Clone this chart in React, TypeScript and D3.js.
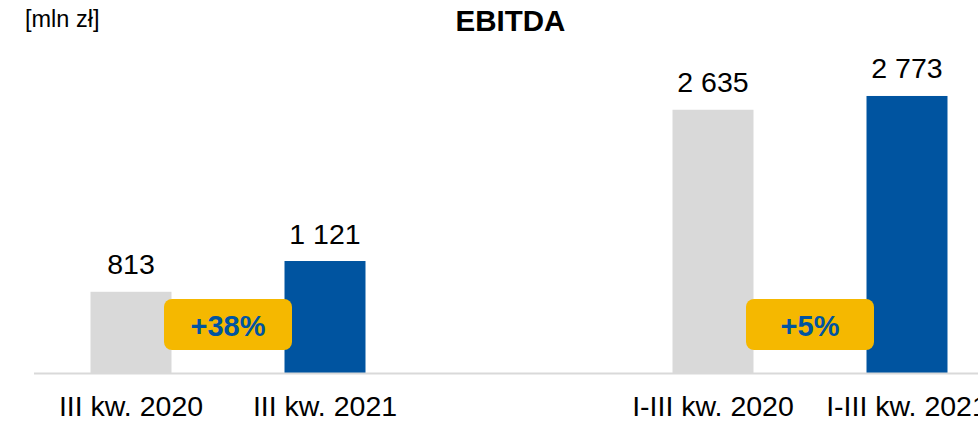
import React from "react";
import * as d3 from "d3";

const categories = ["III kw. 2020", "III kw. 2021", "gap", "I-III kw. 2020", "I-III kw. 2021"];
const values: (number | null)[] = [813, 1121, null, 2635, 2773];
const valueLabels = ["813", "1 121", "", "2 635", "2 773"];
const barKinds = ["prev", "curr", "none", "prev", "curr"];
const changes = [
  { from: "III kw. 2020", to: "III kw. 2021", label: "+38%" },
  { from: "I-III kw. 2020", to: "I-III kw. 2021", label: "+5%" },
];
const title = "EBITDA";
const unitLabel = "[mln zł]";

const W = 978;
const H = 421;
const FONT = "'Liberation Sans', Arial, sans-serif";
const GRAY = "#d9d9d9";
const BLUE = "#0054a0";
const YELLOW = "#f5b800";

export default function App() {
  const x = d3
    .scaleBand<string>()
    .domain(categories)
    .range([34, 1004])
    .paddingInner(0.5825)
    .paddingOuter(0.29125);
  const y = d3.scaleLinear().domain([0, 3000]).range([373, 73.3]);
  const bw = x.bandwidth();
  const base = y(0);

  return (
    <svg
      width={W}
      height={H}
      style={{ position: "absolute", left: 0, top: 0, display: "block" }}
    >
      <rect width={W} height={H} fill="#fff" />
      <text x={25} y={26.5} fontFamily={FONT} fontSize={23.5} fill="#000">
        {unitLabel}
      </text>
      <text
        x={510.5}
        y={30.7}
        fontFamily={FONT}
        fontSize={29.5}
        fontWeight="bold"
        textAnchor="middle"
        fill="#000"
      >
        {title}
      </text>
      {categories.map((c, i) => {
        const v = values[i];
        if (v == null) return null;
        const x0 = x(c)!;
        return (
          <g key={c}>
            <rect
              x={x0}
              y={y(v)}
              width={bw}
              height={base - y(v)}
              fill={barKinds[i] === "curr" ? BLUE : GRAY}
            />
            <text
              x={x0 + bw / 2}
              y={y(v) - 17.5}
              fontFamily={FONT}
              fontSize={28.5}
              textAnchor="middle"
              fill="#000"
            >
              {valueLabels[i]}
            </text>
            <text
              x={x0 + bw / 2}
              y={416}
              fontFamily={FONT}
              fontSize={28.5}
              textAnchor="middle"
              fill="#000"
            >
              {c}
            </text>
          </g>
        );
      })}
      <line x1={34} x2={1004} y1={base + 0.5} y2={base + 0.5} stroke={GRAY} strokeWidth={1.8} />
      {changes.map((ch) => {
        const cx = (x(ch.from)! + x(ch.to)! + bw) / 2;
        const bwid = 128;
        const bh = 51;
        const cy = 324.5;
        return (
          <g key={ch.label}>
            <rect
              x={cx - bwid / 2}
              y={cy - bh / 2}
              width={bwid}
              height={bh}
              rx={8}
              ry={8}
              fill={YELLOW}
            />
            <text
              x={cx}
              y={335.7}
              fontFamily={FONT}
              fontSize={29}
              fontWeight="bold"
              textAnchor="middle"
              fill={BLUE}
            >
              {ch.label}
            </text>
          </g>
        );
      })}
    </svg>
  );
}
